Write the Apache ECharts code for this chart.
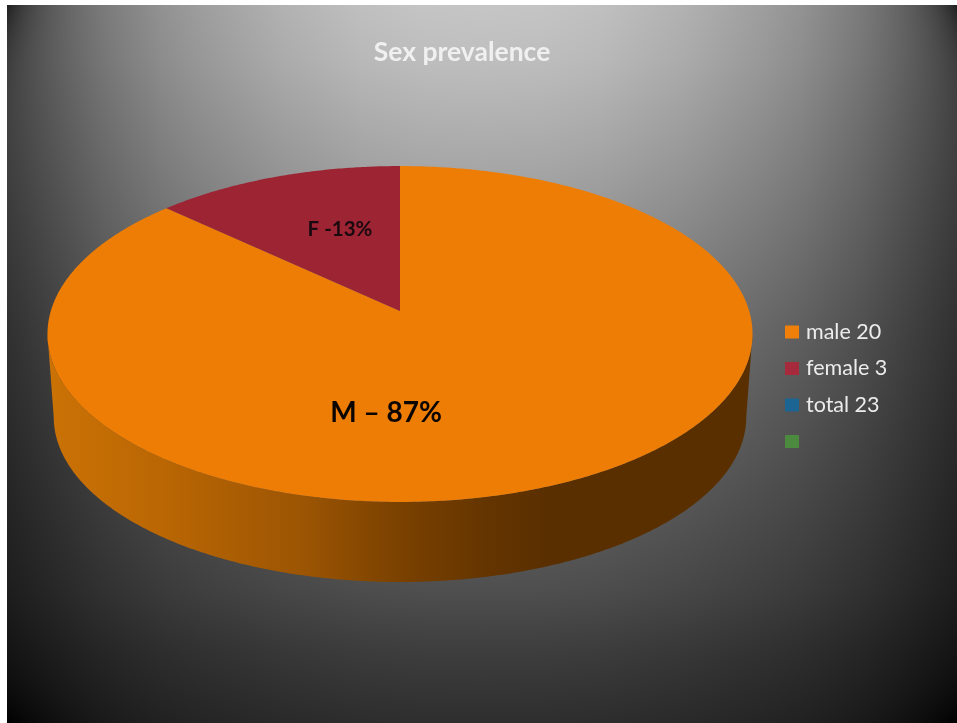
<!DOCTYPE html>
<html>
<head>
<meta charset="utf-8">
<style>html,body{margin:0;padding:0;background:#fff}#chart{width:957px;height:723px}</style>
<script src="https://cdn.jsdelivr.net/npm/echarts@6/dist/echarts.min.js"></script>
</head>
<body>
<div id="chart"></div>
<script>
// Sex prevalence in a group of 23 patients
const legendNames = ['male 20', 'female 3', 'total 23', ' '];
const counts = [20, 3, 23, null];
const sliceLabels = ['M \u2013 87%', 'F -13%', null, null];
const swatchColors = ['#f07f09', '#a6293c', '#1c6491', '#4c8b3f'];
const faceColors = ['#ee7d06', '#9c2433'];
const groupTotal = counts[2];

// Perspective disc layout: top face and the lower rim of the extrusion
const tilt = -0.137;
const topFace = { cx: 400, cy: 311, a: 349.2, b: 164.8 };
const lowerRim = { cx: 400, cy: 394.5, a: 343, b: 161.8 };
const labelAnchors = [[386, 413], [340, 229]];
const labelFonts = ['bold 28px Lato', 'bold 20.5px Lato'];
const labelInks = ['#0a0500', '#1a0a10'];

function project(disc, deg) {
  const r = deg * Math.PI / 180, u = Math.sin(r), v = -Math.cos(r), d = 1 + tilt * v;
  return [disc.cx + disc.a * u / d, disc.cy + disc.b * v / d];
}
function arc(disc, from, to) {
  const pts = [], n = Math.max(2, Math.ceil(Math.abs(to - from) * 2));
  for (let i = 0; i <= n; i++) pts.push(project(disc, from + (to - from) * i / n));
  return pts;
}

// The rim is visible between the two silhouette points of the disc
const rimFrom = 90 + Math.asin(-tilt) * 180 / Math.PI;
const rimTo = 270 - Math.asin(-tilt) * 180 / Math.PI;
const rimShade = {
  type: 'linear', x: 50, y: 0, x2: 750, y2: 0, global: true,
  colorStops: [
    { offset: 0, color: '#cb7205' }, { offset: 0.19, color: '#b66403' },
    { offset: 0.36, color: '#9c5503' }, { offset: 0.5, color: '#7a4100' },
    { offset: 0.62, color: '#653500' }, { offset: 0.71, color: '#5a2f00' },
    { offset: 1, color: '#5a2f00' }
  ]
};

function sliceStart(index) {
  let s = 0;
  for (let i = 0; i < index; i++) s += counts[i];
  return s / groupTotal * 360;
}

function sliceRenderer(index) {
  return function (params, api) {
    const from = sliceStart(index);
    const to = from + api.value(0) / groupTotal * 360;
    const children = [];
    const lo = Math.max(from, rimFrom), hi = Math.min(to, rimTo);
    if (hi > lo) {
      children.push({
        type: 'polygon',
        shape: { points: arc(lowerRim, lo, hi).concat(arc(topFace, hi, lo)) },
        style: { fill: rimShade }
      });
    }
    children.push({
      type: 'polygon',
      shape: { points: [[topFace.cx, topFace.cy]].concat(arc(topFace, from, to)) },
      style: { fill: faceColors[index] }
    });
    children.push({
      type: 'text',
      style: {
        text: sliceLabels[index], x: labelAnchors[index][0], y: labelAnchors[index][1],
        align: 'center', verticalAlign: 'middle',
        font: labelFonts[index], fill: labelInks[index]
      }
    });
    return { type: 'group', children };
  };
}

function lerp(stops, t) {
  let k = 1;
  while (k < stops.length - 1 && stops[k][0] < t) k++;
  const f = (t - stops[k - 1][0]) / (stops[k][0] - stops[k - 1][0]);
  return stops[k - 1][1] + (stops[k][1] - stops[k - 1][1]) * f;
}

// Backdrop: bright at the top centre, falling off towards the edges and corners
function backdrop() {
  const w = 950, h = 718;
  const canvas = document.createElement('canvas');
  canvas.width = w; canvas.height = h;
  const ctx = canvas.getContext('2d');
  const img = ctx.createImageData(w, h);
  const down = [[0, 198], [60, 190], [160, 168], [330, 128], [460, 104], [590, 79], [650, 62], [723, 46]];
  const across = [[0, 1], [60, 0.995], [120, 0.97], [200, 0.9], [280, 0.8], [320, 0.74], [380, 0.62], [420, 0.52], [475, 0.38]];
  for (let y = 0; y < h; y++) {
    const py = y + 5;
    for (let x = 0; x < w; x++) {
      const dx = Math.abs(x + 7 - 482);
      const side = 475 - dx;
      const topCorner = 1 - 0.65 * Math.exp(-side / 22) * Math.exp(-py / 45);
      const lowCorner = 1 - Math.exp(-side / 45) * Math.exp(-(723 - py) / 40);
      const g = lerp(down, py) * lerp(across, dx) * topCorner * lowCorner;
      const p = (y * w + x) * 4;
      img.data[p] = img.data[p + 1] = img.data[p + 2] = g;
      img.data[p + 3] = 255;
    }
  }
  ctx.putImageData(img, 0, 0);
  return canvas;
}

const chart = echarts.init(document.getElementById('chart'), null, { renderer: 'canvas' });
chart.setOption({
  animation: false,
  backgroundColor: '#ffffff',
  title: {
    text: 'Sex prevalence', left: 457, top: 34, textAlign: 'center',
    textStyle: { fontFamily: 'Lato', fontWeight: 'bold', fontSize: 26.5, color: '#f0f0f0' }
  },
  graphic: [{
    type: 'image', silent: true, z: -10,
    style: { image: backdrop(), x: 7, y: 5, width: 950, height: 718 }
  }],
  legend: {
    left: 785, top: 321, orient: 'vertical', selectedMode: false,
    itemWidth: 14, itemHeight: 13, itemGap: 14.5, padding: 0,
    icon: 'rect',
    textStyle: { fontFamily: 'Lato', fontSize: 21.5, color: '#ececec', lineHeight: 13, padding: [0, 0, 0, 2] },
    data: legendNames.map((name, i) => ({ name, icon: 'rect', itemStyle: { color: swatchColors[i] } }))
  },
  series: legendNames.map((name, i) => ({
    type: 'custom',
    name,
    coordinateSystem: 'none',
    itemStyle: { color: swatchColors[i] },
    silent: true,
    z: 2 + i,
    data: [[counts[i]]],
    renderItem: sliceLabels[i] ? sliceRenderer(i) : () => null
  }))
});
</script>
</body>
</html>
